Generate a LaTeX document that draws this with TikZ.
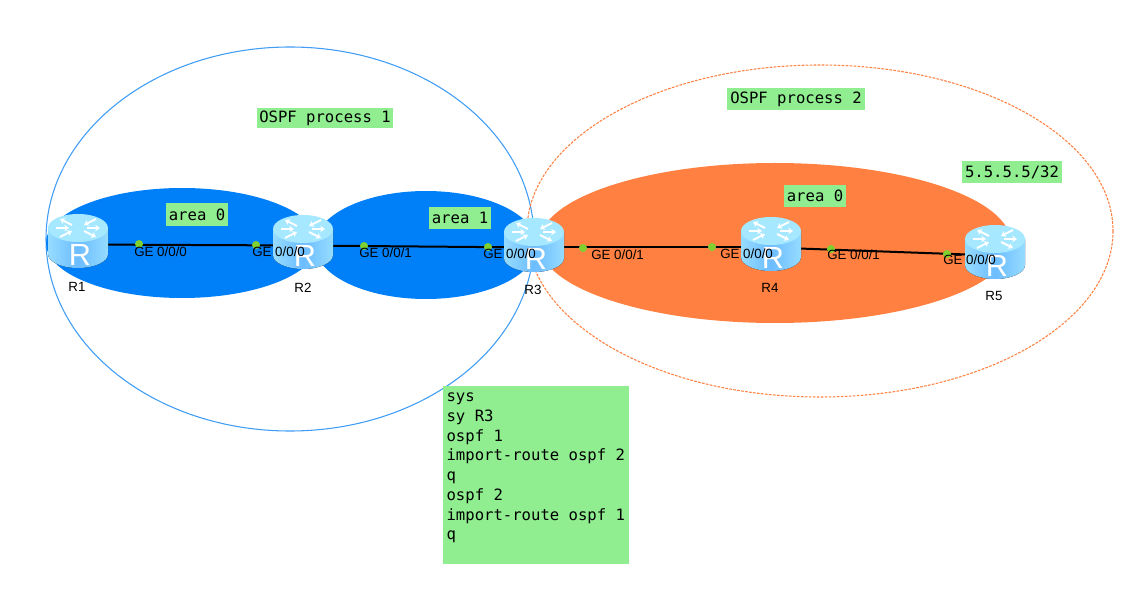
\documentclass[tikz,border=0pt]{standalone}
\usepackage{fontspec}
\setmainfont{Liberation Sans}
\newfontfamily\cfgfont{DejaVu Sans Mono}
\usetikzlibrary{arrows.meta}
\definecolor{boxgreen}{HTML}{90EE90}
\definecolor{areablue}{HTML}{0080F8}
\definecolor{areaorange}{HTML}{FF8040}
\definecolor{procblue}{HTML}{3F9DF5}
\definecolor{dotgreen}{HTML}{80D030}
\definecolor{rtop}{HTML}{A6E8FF}
\definecolor{redge}{HTML}{96DCFF}
\definecolor{rmid}{HTML}{6CBCFF}
\tikzset{
  procline/.style={line width=0.8pt},
  tag/.style={fill=boxgreen,inner sep=0pt,font=\cfgfont\fontsize{11.7}{14}\selectfont},
  iface/.style={anchor=west,inner sep=0pt,font=\fontsize{10}{12}\selectfont,text=black},
  hostname/.style={inner sep=0pt,font=\fontsize{10}{12}\selectfont,text=black},
  linkline/.style={line width=1.5pt,black},
  portdot/.style={circle,fill=dotgreen,inner sep=0pt,minimum size=6pt},
  routerpt/.style={inner sep=0pt,minimum size=1pt},
  routerpic/.pic={
    \fill[left color=redge,right color=redge,middle color=rmid]
      (-30,-13) -- (-30,13) arc[start angle=180,end angle=0,x radius=30,y radius=14] -- (30,-13) -- cycle;
    \fill[rtop] (0,-13) ellipse[x radius=30,y radius=14];
    \begin{scope}[shift={(0,-13)},yscale=.5,white,line width=1.5pt,-{Stealth[length=3.6pt,width=4.8pt]}]
      \draw (-6,-6) -- (-18,-18);
      \draw (18,-18) -- (6,-6);
      \draw (6,6) -- (18,18);
      \draw (-18,18) -- (-6,6);
      \draw (-22,0) -- (-9,0);
      \draw (9,0) -- (22,0);
    \end{scope}
    \node[white,inner sep=0pt,font=\fontsize{23}{26}\selectfont] at (2,14) {R};
  }
}
\begin{document}
\begin{tikzpicture}[x=0.75pt,y=-0.75pt]
\useasboundingbox[fill=white] (0,0) rectangle (1141,598);
% process outlines
\draw[procline,draw=procblue] (290,239) ellipse[x radius=244,y radius=192];
\draw[procline,draw=areaorange,dash pattern=on 2pt off 1pt] (820,231) ellipse[x radius=293,y radius=166];
% areas
\fill[areablue] (182,243) ellipse[x radius=136,y radius=55];
\fill[areablue] (426,245) ellipse[x radius=111,y radius=54];
\fill[areaorange] (775,243) ellipse[x radius=236,y radius=80];
% router anchors on the link line
\node[routerpt] (R1) at (78,244.5) {};
\node[routerpt] (R2) at (303,245.5) {};
\node[routerpt] (R3) at (534,247.5) {};
\node[routerpt] (R4) at (771,247.5) {};
\node[routerpt] (R5) at (995,255.5) {};
% links
\draw[linkline] (R1.center) -- (R2.center);
\draw[linkline] (R2.center) -- (R3.center);
\draw[linkline] (R3.center) -- (R4.center);
\draw[linkline] (R4.center) -- (R5.center);
% ports
\node[portdot] (p1) at (139,244) {};
\node[portdot] (p2) at (256,245) {};
\node[portdot] (p3) at (364,246) {};
\node[portdot] (p4) at (488,247) {};
\node[portdot] (p5) at (583,248) {};
\node[portdot] (p6) at (712,247) {};
\node[portdot] (p7) at (831,249) {};
\node[portdot] (p8) at (947,254) {};
% routers
\pic at (78,241) {routerpic};
\pic at (303,242) {routerpic};
\pic at (534,245) {routerpic};
\pic at (771,244) {routerpic};
\pic at (995,252) {routerpic};
% interface labels
\node[iface] (l1) at (134,252) {GE 0/0/0};
\node[iface] (l2) at (252,252) {GE 0/0/0};
\node[iface] (l3) at (359,253) {GE 0/0/1};
\node[iface] (l4) at (483,254) {GE 0/0/0};
\node[iface] (l5) at (591,255) {GE 0/0/1};
\node[iface] (l6) at (720,254) {GE 0/0/0};
\node[iface] (l7) at (827,255) {GE 0/0/1};
\node[iface] (l8) at (943,260) {GE 0/0/0};
% hostnames
\node[hostname] (n1) at (77,287) {R1};
\node[hostname] (n2) at (303,288) {R2};
\node[hostname] (n3) at (533,290) {R3};
\node[hostname] (n4) at (770,288) {R4};
\node[hostname] (n5) at (994,296) {R5};
% tags
\node[tag,minimum width=102pt,minimum height=15.5pt] (t1) at (325,118) {OSPF process 1};
\node[tag,minimum width=103.5pt,minimum height=16.5pt] (t2) at (796,99) {OSPF process 2};
\node[tag,minimum width=47pt,minimum height=17pt] (t3) at (197,214.5) {area 0};
\node[tag,minimum width=46pt,minimum height=16.5pt] (t4) at (460,218) {area 1};
\node[tag,minimum width=47pt,minimum height=16.5pt] (t5) at (815,196) {area 0};
\node[tag,minimum width=75pt,minimum height=16.5pt] (t6) at (1012,172) {5.5.5.5/32};
\node[fill=boxgreen,anchor=north west,inner xsep=2.5pt,inner ysep=0pt,font=\cfgfont\fontsize{11.7}{14.8}\selectfont] (cfg) at (443,386)
 {\parbox[t][133.5pt][t]{134.5pt}{\vspace{5pt}\raggedright sys\\ sy R3\\ ospf 1\\ import-route ospf 2\\ q\\ ospf 2\\ import-route ospf 1\\ q}};
\end{tikzpicture}
\end{document}
